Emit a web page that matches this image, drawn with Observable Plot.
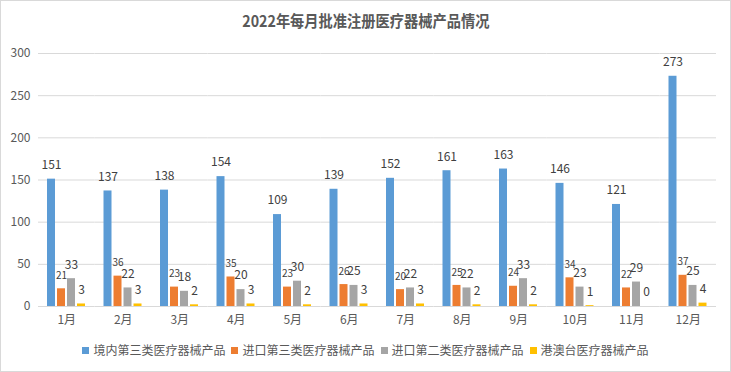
<!DOCTYPE html>
<html><head><meta charset="utf-8">
<script src="https://cdn.jsdelivr.net/npm/d3@7"></script>
<script src="https://cdn.jsdelivr.net/npm/@observablehq/plot@0.6"></script>
<style>
body{margin:0;background:#fff;font-family:"Noto Sans CJK SC","Noto Sans",sans-serif;}
#chart{position:relative;width:731px;height:372px;box-sizing:border-box;border:1px solid #d9d9d9;overflow:hidden;background:#fff;}
#title{height:37px;display:flex;align-items:center;justify-content:center;padding-top:1px;box-sizing:border-box;}
#title span{font-size:16px;font-weight:bold;color:#595959;display:inline-block;transform:scaleX(0.89);white-space:nowrap;}
#plot svg{display:block;}
#legend{display:flex;justify-content:center;gap:6px;font-size:12px;color:#595959;padding-top:6px;line-height:20px;}
#legend .it{display:flex;align-items:center;gap:4px;}
#legend .sw{width:7px;height:7px;display:inline-block;}
</style></head>
<body>
<div id="chart">
  <div id="title"><span>2022年每月批准注册医疗器械产品情况</span></div>
  <div id="plot"></div>
  <div id="legend"></div>
</div>
<script>
const months = ["1月","2月","3月","4月","5月","6月","7月","8月","9月","10月","11月","12月"];
const seriesNames = ["境内第三类医疗器械产品","进口第三类医疗器械产品","进口第二类医疗器械产品","港澳台医疗器械产品"];
const domestic3 = [151,137,138,154,109,139,152,161,163,146,121,273];
const import3 = [21,36,23,35,23,26,20,25,24,34,22,37];
const import2 = [33,22,18,20,30,25,22,22,33,23,29,25];
const hkmt = [3,3,2,3,2,3,3,2,2,1,0,4];
const colors = ["#5B9BD5","#ED7D31","#A5A5A5","#FFC000"];
const yTicks = [0,50,100,150,200,250,300];

const values = [domestic3, import3, import2, hkmt];
const data = months.flatMap((m,i)=>seriesNames.map((s,j)=>({month:m, series:s, value:values[j][i]})));
const font = '"Noto Sans CJK SC","Noto Sans",sans-serif';

const chart = Plot.plot({
  width:729, height:296,
  marginLeft:37, marginRight:14, marginTop:15, marginBottom:28,
  style:{fontFamily:font, fontSize:"12px", color:"#595959", background:"transparent"},
  fx:{domain:months, padding:0, round:false, label:null},
  x:{domain:seriesNames, axis:null, paddingInner:0.22, paddingOuter:0.85},
  y:{domain:[0,300], label:null},
  color:{domain:seriesNames, range:colors},
  marks:[
    Plot.gridY(yTicks, {stroke:"#d9d9d9", strokeOpacity:1}),
    Plot.axisY(yTicks, {tickSize:0, tickPadding:8, label:null, fontSize:12, fill:"#595959"}),
    Plot.axisFx({anchor:"bottom", tickSize:0, tickPadding:9, label:null, fontSize:12, fill:"#595959"}),
    Plot.barY(data, {fx:"month", x:"series", y:"value", fill:"series"}),
    Plot.text(data.filter(d=>d.series!==seriesNames[1]), {fx:"month", x:"series", y:"value", text:d=>String(d.value), dy:-14, fontSize:12, fill:"#404040"}),
    Plot.text(data.filter(d=>d.series===seriesNames[1]), {fx:"month", x:"series", y:"value", text:d=>String(d.value), dy:-13, fontSize:10, fill:"#404040"})
  ]
});
document.getElementById("plot").appendChild(chart);

const legend = document.getElementById("legend");
seriesNames.forEach((s,i)=>{
  const it = document.createElement("div"); it.className="it";
  const sw = document.createElement("span"); sw.className="sw"; sw.style.background=colors[i];
  const tx = document.createElement("span"); tx.textContent=s;
  it.appendChild(sw); it.appendChild(tx); legend.appendChild(it);
});
</script>
</body></html>
